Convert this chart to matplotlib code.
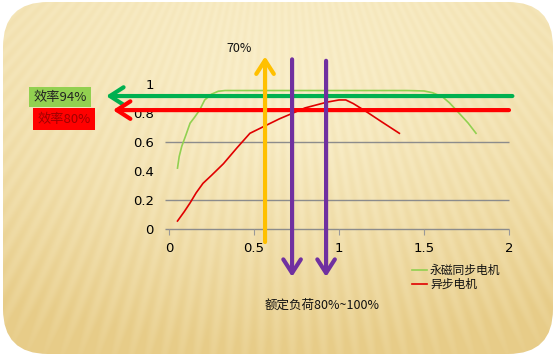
import matplotlib.pyplot as plt
import numpy as np
from matplotlib.patches import FancyBboxPatch

plt.rcParams['font.family'] = ['Noto Sans CJK SC', 'DejaVu Sans']

# efficiency curves
pm_x = [0.05, 0.06, 0.075, 0.1, 0.124, 0.15, 0.18, 0.21, 0.25, 0.29, 0.33, 0.4, 0.6, 0.8,
        1.0, 1.2, 1.4, 1.5, 1.55, 1.61, 1.65, 1.69, 1.76, 1.806]
pm_y = [0.42, 0.5, 0.57, 0.65, 0.73, 0.77, 0.82, 0.89, 0.93, 0.95, 0.955, 0.955, 0.955, 0.955,
        0.955, 0.955, 0.955, 0.952, 0.94, 0.91, 0.87, 0.82, 0.73, 0.66]
im_x = [0.05, 0.09, 0.124, 0.16, 0.2, 0.25, 0.32, 0.4, 0.476, 0.575, 0.65, 0.73, 0.8, 0.93,
        1.0, 1.04, 1.084, 1.16, 1.25, 1.355]
im_y = [0.055, 0.12, 0.18, 0.25, 0.315, 0.37, 0.45, 0.56, 0.66, 0.717, 0.76, 0.8, 0.835, 0.875,
        0.89, 0.89, 0.865, 0.81, 0.74, 0.66]

x_ticks = [0, 0.5, 1, 1.5, 2]
x_tick_labels = ['0', '0.5', '1', '1.5', '2']
y_ticks = [0, 0.2, 0.4, 0.6, 0.8, 1]
y_tick_labels = ['0', '0.2', '0.4', '0.6', '0.8', '1']
grid_y = [0, 0.2, 0.6]

eff_94 = 0.917
eff_80 = 0.82
load_70 = 0.565
load_80 = 0.724
load_100 = 0.924

W, H = 559, 359
fig = plt.figure(figsize=(W / 100, H / 100), dpi=100)
fig.patch.set_facecolor('white')

# background panel with gradient and light rays
bg = fig.add_axes([0, 0, 1, 1])
bg.set_xlim(0, W)
bg.set_ylim(H, 0)
bg.axis('off')
yy, xx = np.mgrid[0:H, 0:W]
light = np.array([255, 249, 222]) / 255
dark = np.array([231, 204, 136]) / 255
d = np.sqrt(((xx - 280) / 330) ** 2 + ((yy - 120) / 260) ** 2)
t = np.clip(0.12 + 0.35 * d + 0.45 * (yy / H) ** 1.5, 0, 1)
ang = np.arctan2(xx - 280, yy + 250)
stripes = 0.5 + 0.5 * np.sin(ang * 240)
t = np.clip(t + 0.16 * stripes * (0.5 + 0.5 * yy / H), 0, 1)
img = light[None, None, :] * (1 - t[..., None]) + dark[None, None, :] * t[..., None]
im = bg.imshow(img, extent=[0, W, H, 0], aspect='auto', zorder=0)
panel = FancyBboxPatch((3, 2), 550, 352, boxstyle='round,pad=0,rounding_size=45',
                       facecolor='none', edgecolor='none', transform=bg.transData)
bg.add_patch(panel)
im.set_clip_path(panel)

# chart area
ax = fig.add_axes([169 / W, (H - 229) / H, 340 / W, 145 / H])
ax.set_facecolor('none')
for s in ax.spines.values():
    s.set_visible(False)
ax.set_xlim(0, 2)
ax.set_ylim(0, 1)
ax.set_xticks(x_ticks)
ax.set_xticklabels(x_tick_labels, family='DejaVu Sans')
ax.set_yticks(y_ticks)
ax.set_yticklabels(y_tick_labels, family='DejaVu Sans')
ax.tick_params(axis='x', length=4, color='#999999', pad=5, labelsize=9.5)
ax.tick_params(axis='y', length=0, pad=11, labelsize=9.5)
ax.hlines(grid_y, -0.024, 2, color='#8c8c8c', lw=1, clip_on=False, zorder=1)

ax.plot(pm_x, pm_y, color='#92D050', lw=1.2, clip_on=False, zorder=3)
ax.plot(im_x, im_y, color='#E00000', lw=1.2, clip_on=False, zorder=3)


def arrow(x0, y0, x1, y1, color):
    ax.annotate('', xy=(x1, y1), xytext=(x0, y0), annotation_clip=False,
                arrowprops=dict(arrowstyle='->,head_length=0.7,head_width=0.45',
                                color=color, lw=3, mutation_scale=14,
                                shrinkA=0, shrinkB=0), zorder=5)


arrow(2.02, eff_94, -0.37, eff_94, '#00B050')
arrow(2.0, eff_80, -0.33, eff_80, '#FF0000')
arrow(load_70, -0.09, load_70, 1.19, '#FFC000')
arrow(load_80, 1.17, load_80, -0.33, '#7030A0')
arrow(load_100, 1.16, load_100, -0.33, '#7030A0')

# labels in pixel coordinates of the panel
bg.text(60, 97, '效率94%', ha='center', va='center', fontsize=9.5, color='#222222',
        bbox=dict(boxstyle='square,pad=0.3', facecolor='#92D050', edgecolor='none'))
bg.text(64, 119, '效率80%', ha='center', va='center', fontsize=9.5, color='#A00000',
        bbox=dict(boxstyle='square,pad=0.35', facecolor='#FF0000', edgecolor='none'))
bg.text(239, 49, '70%', ha='center', va='center', fontsize=9, color='#111111')
bg.text(322, 305, '额定负荷80%~100%', ha='center', va='center', fontsize=9, color='#111111')

bg.plot([412, 427], [270, 270], color='#92D050', lw=1.2)
bg.plot([412, 427], [284, 284], color='#E00000', lw=1.2)
bg.text(430, 270, '永磁同步电机', ha='left', va='center', fontsize=8.5, color='#111111')
bg.text(430, 284, '异步电机', ha='left', va='center', fontsize=8.5, color='#111111')

fig.savefig('out.png', dpi=100)
